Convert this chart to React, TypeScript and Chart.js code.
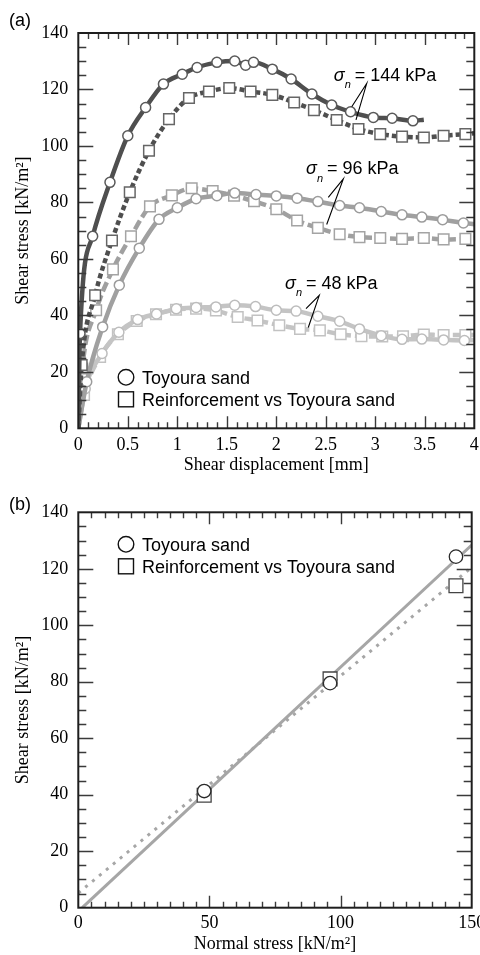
import React, { useEffect, useRef } from 'react';
import { Chart, registerables } from 'chart.js';

Chart.register(...registerables);

const SERIF = '"Liberation Serif", "Times New Roman", serif';
const SANS = '"Liberation Sans", Arial, sans-serif';

// ---------- Panel (a): shear stress vs shear displacement ----------
// first point (origin) and last point (curve end) carry no marker
const dispT144 = [0, 0.017, 0.145, 0.32, 0.5, 0.68, 0.86, 1.05, 1.2, 1.4, 1.58, 1.69, 1.77, 1.96, 2.15, 2.36, 2.56, 2.75, 2.98, 3.17, 3.38, 3.49];
const tauT144 = [0, 33.6, 68, 87.1, 103.6, 113.6, 121.9, 125.4, 127.8, 129.6, 130.1, 128.6, 129.6, 127.2, 123.7, 118.4, 114.5, 112.1, 110.1, 109.8, 108.9, 109.3];

const dispR144 = [0, 0.034, 0.17, 0.34, 0.52, 0.714, 0.916, 1.118, 1.32, 1.525, 1.74, 1.96, 2.18, 2.38, 2.61, 2.83, 3.05, 3.27, 3.49, 3.69, 3.91, 4.0];
const tauR144 = [0, 22.4, 47.1, 66.5, 83.6, 98.3, 109.5, 117.0, 119.3, 120.5, 119.3, 118.1, 115.4, 112.7, 109.2, 106.0, 104.2, 103.3, 103.0, 103.6, 104.2, 104.5];

const dispT96 = [0, 0.085, 0.246, 0.414, 0.616, 0.815, 1.0, 1.19, 1.4, 1.58, 1.795, 2.0, 2.21, 2.42, 2.64, 2.84, 3.06, 3.27, 3.47, 3.68, 3.89, 4.0];
const tauT96 = [0, 16.5, 35.9, 50.7, 63.8, 74.0, 78.1, 81.3, 82.4, 83.3, 82.8, 82.3, 81.5, 80.3, 78.9, 78.1, 76.8, 75.6, 74.8, 73.9, 72.7, 72.3];

const dispR96 = [0, 0.04, 0.18, 0.35, 0.532, 0.724, 0.945, 1.145, 1.357, 1.573, 1.775, 2.0, 2.21, 2.42, 2.64, 2.84, 3.05, 3.27, 3.49, 3.69, 3.91, 4.0];
const tauR96 = [0, 21.2, 41.8, 56.3, 68.0, 78.6, 82.5, 85.0, 84.0, 82.4, 80.4, 77.6, 73.6, 71.0, 68.7, 67.7, 67.4, 67.1, 67.4, 66.9, 67.1, 67.3];

const dispT48 = [0, 0.07, 0.24, 0.41, 0.6, 0.79, 0.99, 1.19, 1.39, 1.58, 1.79, 2.0, 2.2, 2.42, 2.64, 2.84, 3.06, 3.27, 3.47, 3.69, 3.9, 4.0];
const tauT48 = [0, 14, 26.5, 34, 38.5, 40.5, 42.3, 42.8, 43.0, 43.6, 43.1, 41.8, 41.5, 39.7, 37.9, 35.2, 32.8, 31.5, 31.6, 31.3, 31.1, 31.2];

const dispR48 = [0, 0.058, 0.22, 0.4, 0.59, 0.785, 0.987, 1.19, 1.39, 1.61, 1.81, 2.03, 2.24, 2.44, 2.65, 2.86, 3.07, 3.28, 3.49, 3.69, 3.91, 4.0];
const tauR48 = [0, 11.8, 25.3, 33.3, 38.0, 40.4, 42.0, 42.4, 41.7, 39.4, 38.2, 36.5, 35.2, 34.7, 33.3, 32.6, 32.5, 32.6, 33.2, 33.0, 33.0, 33.0];

// ---------- Panel (b): peak shear stress vs normal stress ----------
const normalStress = [48, 96, 144];
const peakToyoura = [41.3, 79.5, 124.3];
const peakReinf = [39.8, 81.0, 114.0];
const fitToyouraX = [1.5, 150];
const fitToyouraY = [0, 128.4];
const fitReinfX = [0, 150];
const fitReinfY = [5.2, 120.5];

// ---------- axes ----------
const dispMax = 4, dispMajor = 0.5, dispMinor = 0.1;
const stressMax = 140, stressMajor = 20, stressMinor = 5;
const normalMax = 150, normalMajor = 50, normalMinor = 5;

const legendLabels = ['Toyoura sand', 'Reinforcement vs Toyoura sand'];
const sigmaLabels = ['144', '96', '48'];
// annotation anchors in data units: text [x, y], apex, end to Toyoura curve, end to reinforcement curve
const sigmaText = [[2.58, 123.1], [2.3, 89.9], [2.088, 49.5]];
const sigmaApex = [[2.913, 122.1], [2.677, 88.3], [2.434, 47.1]];
const sigmaEndT = [[2.762, 113.9], [2.525, 81.8], [2.3, 42.4]];
const sigmaEndR = [[2.805, 109.2], [2.509, 72.2], [2.323, 35.7]];

const DARK = '#4f4f4f';
const MID = '#a0a0a0';
const LIGHT = '#c4c4c4';

const toPts = (xs: number[], ys: number[]) => xs.map((x, i) => ({ x, y: ys[i] }));

function curveDataset(label: string, xs: number[], ys: number[], color: string, border: string, dash: number[], circle: boolean) {
  const last = xs.length - 1;
  const r = circle ? 5 : 7.5;
  return {
    label,
    data: toPts(xs, ys),
    borderColor: color,
    borderWidth: 4.5,
    borderDash: dash,
    cubicInterpolationMode: 'monotone',
    pointStyle: circle ? 'circle' : 'rect',
    pointRadius: (c: any) => (c.dataIndex === 0 || c.dataIndex === last ? 0 : r),
    pointBackgroundColor: '#ffffff',
    pointBorderColor: border,
    pointBorderWidth: 1.5,
    fill: false,
  };
}

function drawFrameAndTicks(chart: any, xMinor: number, xMajor: number, yMinor: number, yMajor: number) {
  const { ctx, chartArea: a, scales } = chart;
  const xs = scales.x, ys = scales.y;
  ctx.save();
  ctx.strokeStyle = '#3a3a3a';
  ctx.lineWidth = 1.4;
  ctx.beginPath();
  const nx = Math.round((xs.max - xs.min) / xMinor);
  const ex = Math.round(xMajor / xMinor);
  for (let i = 1; i < nx; i++) {
    const px = Math.round(xs.getPixelForValue(xs.min + i * xMinor)) + 0.5;
    const L = i % ex === 0 ? 12 : 6;
    ctx.moveTo(px, a.bottom); ctx.lineTo(px, a.bottom - L);
    ctx.moveTo(px, a.top); ctx.lineTo(px, a.top + L);
  }
  const ny = Math.round((ys.max - ys.min) / yMinor);
  const ey = Math.round(yMajor / yMinor);
  for (let i = 1; i < ny; i++) {
    const py = Math.round(ys.getPixelForValue(ys.min + i * yMinor)) + 0.5;
    const L = i % ey === 0 ? 15 : 8;
    ctx.moveTo(a.left, py); ctx.lineTo(a.left + L, py);
    ctx.moveTo(a.right, py); ctx.lineTo(a.right - L, py);
  }
  ctx.stroke();
  ctx.strokeStyle = '#1e1e1e';
  ctx.lineWidth = 2;
  ctx.strokeRect(a.left, a.top, a.right - a.left, a.bottom - a.top);
  ctx.restore();
}

function drawLegend(ctx: any, x: number, y: number) {
  ctx.save();
  ctx.strokeStyle = '#111';
  ctx.lineWidth = 1.4;
  ctx.fillStyle = '#fff';
  ctx.beginPath();
  ctx.arc(x, y, 7.8, 0, Math.PI * 2);
  ctx.fill(); ctx.stroke();
  ctx.fillRect(x - 7.5, y + 22 - 7.5, 15, 15);
  ctx.strokeRect(x - 7.5, y + 22 - 7.5, 15, 15);
  ctx.fillStyle = '#000';
  ctx.font = `18px ${SANS}`;
  ctx.textBaseline = 'alphabetic';
  ctx.textAlign = 'left';
  ctx.fillText(legendLabels[0], x + 16, y + 6.5);
  ctx.fillText(legendLabels[1], x + 16, y + 28.5);
  ctx.restore();
}

function drawPanelLabel(ctx: any, text: string, x: number, y: number) {
  ctx.save();
  ctx.fillStyle = '#000';
  ctx.font = `18px ${SANS}`;
  ctx.textBaseline = 'middle';
  ctx.textAlign = 'left';
  ctx.fillText(text, x, y);
  ctx.restore();
}

const decorA = {
  id: 'decorA',
  afterDraw(chart: any) {
    const { ctx, scales, chartArea: a } = chart;
    const X = (v: number) => scales.x.getPixelForValue(v);
    const Y = (v: number) => scales.y.getPixelForValue(v);
    drawFrameAndTicks(chart, dispMinor, dispMajor, stressMinor, stressMajor);
    ctx.save();
    for (let k = 0; k < sigmaLabels.length; k++) {
      const tx = X(sigmaText[k][0]);
      const ty = Y(sigmaText[k][1]);
      ctx.fillStyle = '#000';
      ctx.textAlign = 'left';
      ctx.textBaseline = 'alphabetic';
      ctx.font = `italic 18px ${SANS}`;
      ctx.fillText('σ', tx, ty);
      ctx.font = `italic 11px ${SANS}`;
      ctx.fillText('n', tx + 11, ty + 7.5);
      ctx.font = `18px ${SANS}`;
      ctx.fillText(`= ${sigmaLabels[k]} kPa`, tx + 21, ty);
      ctx.strokeStyle = '#000';
      ctx.lineWidth = 1.1;
      ctx.beginPath();
      ctx.moveTo(X(sigmaEndT[k][0]), Y(sigmaEndT[k][1]));
      ctx.lineTo(X(sigmaApex[k][0]), Y(sigmaApex[k][1]));
      ctx.lineTo(X(sigmaEndR[k][0]), Y(sigmaEndR[k][1]));
      ctx.stroke();
    }
    ctx.restore();
    drawLegend(ctx, a.left + 47.7, a.bottom - 51);
    drawPanelLabel(ctx, '(a)', 9, 21);
  },
};

const decorB = {
  id: 'decorB',
  afterDraw(chart: any) {
    const { ctx, chartArea: a } = chart;
    drawFrameAndTicks(chart, normalMinor, normalMajor, stressMinor, stressMajor);
    drawLegend(ctx, a.left + 47.7, a.top + 32);
    drawPanelLabel(ctx, '(b)', 9, 27.5);
  },
};

const tickFont = { family: SERIF, size: 18 };
const titleFont = { family: SERIF, size: 18 };
const plainNumber = (v: any) => String(Number(v));

function yScale(width: number) {
  return {
    type: 'linear',
    min: 0,
    max: stressMax,
    grid: { display: false, drawTicks: false },
    border: { display: false },
    ticks: { stepSize: stressMajor, padding: 10, font: tickFont, color: '#000', callback: plainNumber },
    title: { display: true, text: 'Shear stress [kN/m²]', font: titleFont, color: '#000', padding: { top: 12, bottom: 0 } },
    afterFit: (s: any) => { s.width = width; },
  };
}

export default function App() {
  const refA = useRef<HTMLCanvasElement>(null);
  const refB = useRef<HTMLCanvasElement>(null);

  useEffect(() => {
    const chartA = new Chart(refA.current as HTMLCanvasElement, {
      type: 'line',
      data: {
        datasets: [
          curveDataset('Toyoura sand, 144 kPa', dispT144, tauT144, DARK, '#5a5a5a', [], true),
          curveDataset('Reinforcement, 144 kPa', dispR144, tauR144, DARK, '#666666', [5, 3], false),
          curveDataset('Toyoura sand, 96 kPa', dispT96, tauT96, MID, '#9c9c9c', [], true),
          curveDataset('Reinforcement, 96 kPa', dispR96, tauR96, MID, '#a4a4a4', [10, 4], false),
          curveDataset('Toyoura sand, 48 kPa', dispT48, tauT48, LIGHT, '#bdbdbd', [], true),
          curveDataset('Reinforcement, 48 kPa', dispR48, tauR48, LIGHT, '#c2c2c2', [10, 4], false),
        ] as any,
      },
      options: {
        animation: false,
        responsive: false,
        devicePixelRatio: 1,
        layout: { padding: { top: 33, right: 15.7, left: 0, bottom: 0 } },
        plugins: { legend: { display: false }, tooltip: { enabled: false } },
        scales: {
          x: {
            type: 'linear',
            min: 0,
            max: dispMax,
            grid: { display: false, drawTicks: false },
            border: { display: false },
            ticks: { stepSize: dispMajor, padding: 6, font: tickFont, color: '#000', maxRotation: 0, autoSkip: false, callback: plainNumber },
            title: { display: true, text: 'Shear displacement [mm]', font: titleFont, color: '#000', padding: { top: 0, bottom: 2 } },
            afterFit: (s: any) => { s.height = 49.7; },
          },
          y: yScale(78.3),
        } as any,
      },
      plugins: [decorA],
    });

    const chartB = new Chart(refB.current as HTMLCanvasElement, {
      type: 'line',
      data: {
        datasets: [
          {
            label: legendLabels[0],
            data: toPts(normalStress, peakToyoura),
            showLine: false,
            pointStyle: 'circle',
            pointRadius: 6.7,
            pointBackgroundColor: '#fff',
            pointBorderColor: '#2a2a2a',
            pointBorderWidth: 1.3,
          },
          {
            label: legendLabels[1],
            data: toPts(normalStress, peakReinf),
            showLine: false,
            pointStyle: 'rect',
            pointRadius: 9.8,
            pointBackgroundColor: '#fff',
            pointBorderColor: '#444',
            pointBorderWidth: 1.3,
          },
          {
            label: 'Fit Toyoura sand',
            data: toPts(fitToyouraX, fitToyouraY),
            borderColor: '#a6a6a6',
            borderWidth: 3,
            pointRadius: 0,
          },
          {
            label: 'Fit reinforcement',
            data: toPts(fitReinfX, fitReinfY),
            borderColor: '#a6a6a6',
            borderWidth: 3,
            borderDash: [3, 6],
            pointRadius: 0,
          },
        ] as any,
      },
      options: {
        animation: false,
        responsive: false,
        devicePixelRatio: 1,
        layout: { padding: { top: 34.3, right: 15.7, left: 0, bottom: 0 } },
        plugins: { legend: { display: false }, tooltip: { enabled: false } },
        scales: {
          x: {
            type: 'linear',
            min: 0,
            max: normalMax,
            grid: { display: false, drawTicks: false },
            border: { display: false },
            ticks: { stepSize: normalMajor, padding: 4.8, font: tickFont, color: '#000', maxRotation: 0, autoSkip: false, callback: plainNumber },
            title: { display: true, text: 'Normal stress [kN/m²]', font: titleFont, color: '#000', padding: { top: 0, bottom: 0 } },
            afterFit: (s: any) => { s.height = 47.3; },
          },
          y: yScale(78.3),
        } as any,
      },
      plugins: [decorB],
    });

    return () => {
      chartA.destroy();
      chartB.destroy();
    };
  }, []);

  return (
    <div style={{ position: 'absolute', left: 0, top: 0, width: 480, height: 955, overflow: 'hidden', background: '#fff' }}>
      <canvas ref={refA} width={490} height={478} style={{ position: 'absolute', left: 0, top: 0, width: 490, height: 478 }} />
      <canvas ref={refB} width={490} height={477} style={{ position: 'absolute', left: 0, top: 478, width: 490, height: 477 }} />
    </div>
  );
}
